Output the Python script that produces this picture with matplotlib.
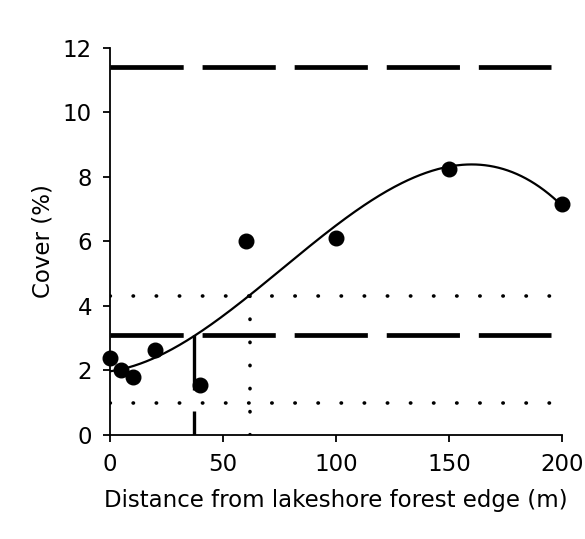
import numpy as np
import matplotlib
matplotlib.use("Agg")
import matplotlib.pyplot as plt

plt.rcParams["font.family"] = ["DejaVu Sans"]

# medidas de cobertura vs distância
distancia = [0, 5, 10, 20, 40, 60, 100, 150, 200]
cobertura = [2.4, 2.0, 1.8, 2.65, 1.55, 6.0, 6.1, 8.25, 7.15]

# linhas de referência
linha_sup = 11.4
linha_media = 3.1
pontilhado_sup = 4.3
pontilhado_inf = 1.0
x_corte = 37
x_pontilhado = 62
x_fim_linhas = 195

# ajuste polinomial (linha de tendência)
coef = np.polyfit(distancia, cobertura, 3)
xs = np.linspace(0, 200, 300)

fig = plt.figure(figsize=(5.85, 5.39), dpi=100)
ax = fig.add_axes([0.188, 0.193, 0.773, 0.718])

tracejado = dict(color="black", lw=3.4, dashes=(15.5, 4), solid_capstyle="butt")
pontos = dict(color="black", lw=2.6, dashes=(0.1, 6.3), dash_capstyle="round")

ax.plot([0, x_fim_linhas], [linha_sup, linha_sup], **tracejado)
ax.plot([0, x_fim_linhas], [linha_media, linha_media], **tracejado)
ax.plot([0, x_fim_linhas], [pontilhado_sup, pontilhado_sup], **pontos)
ax.plot([0, x_fim_linhas], [pontilhado_inf, pontilhado_inf], **pontos)
ax.plot([x_pontilhado, x_pontilhado], [0, pontilhado_sup], **pontos)
ax.plot([x_corte, x_corte], [linha_media, 0], color="black", lw=2.4, dashes=(16.5, 6.3))

ax.plot(xs, np.polyval(coef, xs), color="black", lw=1.6)
ax.plot(distancia, cobertura, "o", color="black", markersize=10.5, clip_on=False)

ax.set_xlim(0, 200)
ax.set_ylim(0, 12)
ax.set_xticks([0, 50, 100, 150, 200])
ax.set_yticks(range(0, 13, 2))
ax.spines["top"].set_visible(False)
ax.spines["right"].set_visible(False)
ax.spines["left"].set_linewidth(1.3)
ax.spines["bottom"].set_linewidth(1.3)
ax.tick_params(labelsize=16.5, length=5, width=1.3, pad=8)
ax.set_xlabel("Distance from lakeshore forest edge (m)", fontsize=16.5, labelpad=9)
ax.set_ylabel("Cover (%)", fontsize=16.5, labelpad=6)

plt.savefig("out.png")
